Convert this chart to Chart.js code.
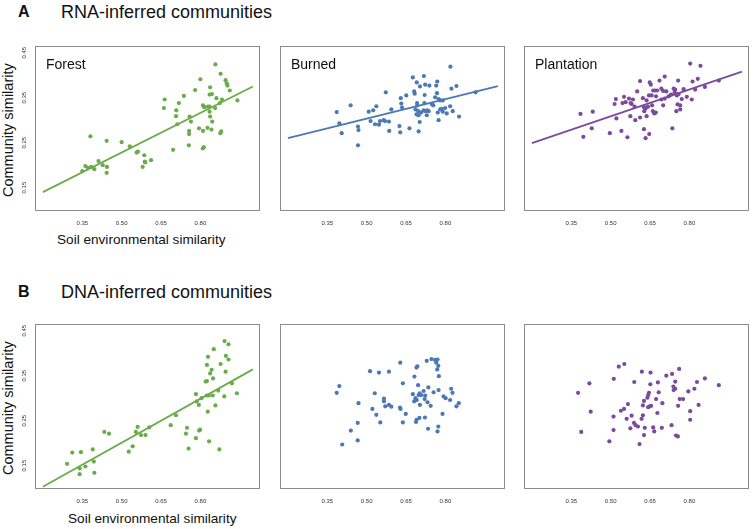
<!DOCTYPE html>
<html>
<head>
<meta charset="utf-8">
<script src="https://cdn.jsdelivr.net/npm/chart.js@4.4.1/dist/chart.umd.min.js"></script>
<style>
  body { margin: 0; width: 753px; height: 529px; position: relative; overflow: hidden; background: #fff;
         font-family: "Liberation Sans", Arial, Helvetica, sans-serif; color: #111; }
  .txt { position: absolute; white-space: nowrap; line-height: 1; }
  .letter { font-weight: bold; font-size: 16px; }
  .title { font-size: 18px; }
  .axis-x { font-size: 13.6px; }
  .axis-y { font-size: 14.5px; transform-origin: 0 0; transform: rotate(-90deg); }
  canvas { position: absolute; }
</style>
</head>
<body>
<div class="txt letter" style="left:18px; top:4px">A</div>
<div class="txt title" style="left:61px; top:3px">RNA-inferred communities</div>
<div class="txt letter" style="left:18px; top:284px">B</div>
<div class="txt title" style="left:61px; top:283px">DNA-inferred communities</div>
<div class="txt axis-y" style="left:1px; top:197px">Community similarity</div>
<div class="txt axis-y" style="left:1px; top:475px">Community similarity</div>
<div class="txt axis-x" style="left:57px; top:233px">Soil environmental similarity</div>
<div class="txt axis-x" style="left:68px; top:512px">Soil environmental similarity</div>

<canvas id="forestRna" width="249" height="187"></canvas>
<canvas id="burnedRna" width="249" height="187"></canvas>
<canvas id="plantRna" width="249" height="187"></canvas>
<canvas id="forestDna" width="249" height="187"></canvas>
<canvas id="burnedDna" width="249" height="187"></canvas>
<canvas id="plantDna" width="249" height="187"></canvas>

<script>
const xTicks = [0.35, 0.50, 0.65, 0.80];
const yTicks = [0.15, 0.25, 0.35, 0.45];
const fitX = [0.2, 1.0];

// RNA-inferred
const forestRnaX = [0.857,0.877,0.800,0.896,0.900,0.903,0.837,0.912,0.780,0.835,
  0.844,0.737,0.718,0.664,0.861,0.882,0.941,0.810,0.815,0.829,
  0.835,0.856,0.874,0.661,0.708,0.835,0.707,0.759,0.837,0.764,
  0.712,0.845,0.795,0.810,0.827,0.842,0.879,0.876,0.757,0.757,
  0.381,0.443,0.500,0.531,0.696,0.756,0.813,0.809,0.557,0.562,
  0.586,0.612,0.588,0.590,0.580,0.412,0.428,0.350,0.362,0.371,
  0.384,0.396,0.444,0.443];
const forestRnaY = [0.424,0.403,0.391,0.389,0.382,0.377,0.373,0.366,0.367,0.357,
  0.358,0.354,0.338,0.346,0.349,0.346,0.344,0.333,0.329,0.330,
  0.330,0.327,0.338,0.327,0.322,0.319,0.309,0.308,0.308,0.297,
  0.291,0.297,0.282,0.276,0.283,0.279,0.275,0.271,0.276,0.269,
  0.264,0.254,0.251,0.242,0.234,0.244,0.240,0.237,0.228,0.230,
  0.222,0.211,0.208,0.206,0.196,0.209,0.200,0.187,0.198,0.194,
  0.196,0.191,0.196,0.183];
const forestRnaFit = [0.140, 0.375];

const burnedRnaX = [0.819,0.676,0.718,0.691,0.769,0.703,0.723,0.739,0.765,0.842,
  0.823,0.573,0.681,0.683,0.630,0.651,0.721,0.768,0.761,0.774,
  0.780,0.790,0.439,0.537,0.632,0.635,0.692,0.693,0.720,0.749,
  0.754,0.818,0.386,0.508,0.525,0.594,0.686,0.697,0.707,0.717,
  0.723,0.731,0.736,0.780,0.786,0.799,0.790,0.828,0.771,0.805,
  0.690,0.698,0.729,0.852,0.515,0.551,0.565,0.570,0.585,0.532,
  0.547,0.774,0.702,0.396,0.467,0.625,0.663,0.586,0.628,0.698,
  0.469,0.405,0.467,0.915];
const burnedRnaY = [0.419,0.395,0.398,0.384,0.386,0.375,0.379,0.377,0.377,0.376,
  0.370,0.362,0.364,0.359,0.349,0.355,0.356,0.360,0.351,0.347,
  0.344,0.344,0.333,0.331,0.337,0.328,0.338,0.333,0.338,0.335,
  0.333,0.331,0.318,0.319,0.322,0.324,0.324,0.320,0.317,0.322,
  0.320,0.322,0.320,0.324,0.325,0.327,0.319,0.320,0.317,0.315,
  0.313,0.311,0.311,0.308,0.298,0.298,0.300,0.298,0.297,0.291,
  0.290,0.300,0.296,0.293,0.286,0.287,0.282,0.276,0.273,0.275,
  0.278,0.271,0.244,0.362];
const burnedRnaFit = [0.260, 0.376];

const plantRnaX = [0.803,0.842,0.612,0.649,0.653,0.686,0.706,0.757,0.812,0.832,
  0.601,0.662,0.668,0.677,0.693,0.700,0.712,0.740,0.746,0.778,
  0.646,0.656,0.673,0.623,0.721,0.730,0.744,0.752,0.759,0.822,
  0.859,0.912,0.520,0.551,0.570,0.585,0.557,0.576,0.580,0.637,
  0.693,0.706,0.771,0.790,0.809,0.515,0.545,0.591,0.627,0.633,
  0.642,0.658,0.700,0.755,0.765,0.628,0.661,0.672,0.750,0.765,
  0.432,0.385,0.522,0.575,0.594,0.612,0.637,0.666,0.428,0.541,
  0.627,0.735,0.497,0.647,0.396,0.564,0.633];
const plantRnaY = [0.426,0.421,0.387,0.384,0.379,0.388,0.397,0.388,0.386,0.392,
  0.364,0.366,0.366,0.366,0.370,0.365,0.364,0.370,0.368,0.369,
  0.355,0.355,0.353,0.349,0.353,0.357,0.362,0.355,0.358,0.368,
  0.374,0.388,0.347,0.352,0.348,0.346,0.340,0.338,0.336,0.344,
  0.346,0.348,0.347,0.352,0.346,0.336,0.338,0.330,0.329,0.326,
  0.330,0.333,0.333,0.335,0.333,0.320,0.320,0.317,0.320,0.324,
  0.319,0.314,0.304,0.309,0.300,0.306,0.309,0.315,0.282,0.276,
  0.280,0.282,0.271,0.269,0.263,0.262,0.260];
const plantRnaFit = [0.249, 0.408];

// DNA-inferred
const forestDnaX = [0.892,0.907,0.851,0.829,0.897,0.907,0.825,0.877,0.843,0.837,
  0.896,0.848,0.825,0.820,0.920,0.868,0.939,0.783,0.824,0.832,
  0.847,0.804,0.786,0.794,0.891,0.857,0.828,0.707,0.687,0.749,
  0.745,0.795,0.799,0.783,0.833,0.755,0.872,0.561,0.554,0.574,
  0.591,0.605,0.434,0.452,0.542,0.527,0.390,0.312,0.345,0.394,
  0.292,0.340,0.340,0.362,0.396];
const forestDnaY = [0.427,0.420,0.409,0.392,0.394,0.386,0.374,0.376,0.363,0.355,
  0.359,0.344,0.338,0.337,0.333,0.317,0.311,0.309,0.306,0.306,
  0.306,0.300,0.293,0.285,0.304,0.284,0.270,0.262,0.240,0.234,
  0.221,0.228,0.230,0.211,0.204,0.188,0.186,0.236,0.225,0.218,
  0.218,0.235,0.225,0.221,0.193,0.181,0.186,0.179,0.180,0.159,
  0.154,0.144,0.131,0.148,0.134];
const forestDnaFit = [0.103, 0.364];

const burnedDnaX = [0.747,0.729,0.761,0.770,0.765,0.773,0.769,0.628,0.693,0.690,
  0.513,0.547,0.585,0.682,0.775,0.396,0.386,0.638,0.696,0.735,
  0.774,0.822,0.827,0.755,0.717,0.702,0.698,0.676,0.708,0.723,
  0.686,0.691,0.681,0.721,0.732,0.793,0.801,0.818,0.851,0.842,
  0.531,0.566,0.566,0.585,0.594,0.571,0.627,0.629,0.703,0.744,
  0.469,0.522,0.537,0.649,0.789,0.722,0.701,0.690,0.688,0.638,
  0.552,0.466,0.440,0.734,0.773,0.770,0.466,0.407];
const burnedDnaY = [0.387,0.383,0.385,0.386,0.379,0.372,0.364,0.379,0.371,0.368,
  0.360,0.357,0.359,0.348,0.349,0.327,0.312,0.333,0.329,0.324,
  0.318,0.321,0.312,0.313,0.316,0.311,0.307,0.309,0.307,0.306,
  0.300,0.296,0.293,0.298,0.291,0.304,0.300,0.296,0.289,0.282,
  0.311,0.299,0.293,0.285,0.281,0.282,0.279,0.276,0.285,0.283,
  0.289,0.276,0.263,0.265,0.265,0.257,0.256,0.252,0.247,0.246,
  0.246,0.245,0.228,0.232,0.237,0.226,0.206,0.197];

const plantDnaX = [0.552,0.531,0.761,0.619,0.652,0.712,0.734,0.512,0.859,0.829,
  0.746,0.590,0.680,0.651,0.419,0.912,0.739,0.746,0.740,0.819,
  0.796,0.376,0.646,0.683,0.643,0.640,0.673,0.627,0.763,0.776,
  0.697,0.835,0.623,0.566,0.654,0.643,0.649,0.757,0.551,0.539,
  0.803,0.424,0.678,0.623,0.580,0.511,0.561,0.618,0.803,0.589,
  0.595,0.604,0.575,0.630,0.662,0.695,0.732,0.666,0.511,0.388,
  0.627,0.749,0.756,0.495,0.610];
const plantDnaY = [0.376,0.370,0.365,0.359,0.357,0.350,0.354,0.343,0.344,0.336,
  0.337,0.336,0.335,0.331,0.333,0.329,0.326,0.321,0.318,0.321,
  0.315,0.312,0.312,0.313,0.307,0.301,0.298,0.294,0.298,0.298,
  0.289,0.285,0.284,0.287,0.283,0.280,0.282,0.283,0.276,0.272,
  0.271,0.270,0.267,0.262,0.261,0.259,0.254,0.254,0.252,0.245,
  0.240,0.237,0.233,0.234,0.235,0.234,0.240,0.226,0.229,0.225,
  0.218,0.217,0.215,0.204,0.198];

const GREEN = '#6aab4b';
const BLUE = '#4c78b3';
const PURPLE = '#7c4a9c';
const FONT = '"Liberation Sans", Arial, Helvetica, sans-serif';

const panels = [
  { id: 'forestRna', left: 35, top: 44, name: 'Forest', xs: forestRnaX, ys: forestRnaY, fit: forestRnaFit, color: GREEN, yLabels: true },
  { id: 'burnedRna', left: 280, top: 44, name: 'Burned', xs: burnedRnaX, ys: burnedRnaY, fit: burnedRnaFit, color: BLUE },
  { id: 'plantRna', left: 524, top: 44, name: 'Plantation', xs: plantRnaX, ys: plantRnaY, fit: plantRnaFit, color: PURPLE },
  { id: 'forestDna', left: 35, top: 322, name: '', xs: forestDnaX, ys: forestDnaY, fit: forestDnaFit, color: GREEN, yLabels: true },
  { id: 'burnedDna', left: 280, top: 322, name: '', xs: burnedDnaX, ys: burnedDnaY, fit: null, color: BLUE },
  { id: 'plantDna', left: 524, top: 322, name: '', xs: plantDnaX, ys: plantDnaY, fit: null, color: PURPLE },
];

// box round the plot, panel name and the rotated y tick labels
const panelFrame = {
  id: 'panelFrame',
  afterDraw(chart, args, opts) {
    const { ctx, chartArea: a } = chart;
    ctx.save();
    ctx.strokeStyle = '#8c8c8c';
    ctx.lineWidth = 1;
    ctx.strokeRect(a.left + 0.5, a.top + 0.5, a.right - a.left - 1, a.bottom - a.top - 1);
    if (opts.name) {
      ctx.fillStyle = '#111';
      ctx.font = '14px ' + FONT;
      ctx.textBaseline = 'alphabetic';
      ctx.fillText(opts.name, a.left + 11, a.top + 23);
    }
    if (opts.yLabels) {
      const y = chart.scales.y;
      ctx.fillStyle = '#333';
      ctx.font = '6px ' + FONT;
      ctx.textAlign = 'center';
      ctx.textBaseline = 'middle';
      y.ticks.forEach(t => {
        ctx.save();
        ctx.translate(a.left - 11, y.getPixelForValue(t.value));
        ctx.rotate(-Math.PI / 2);
        ctx.fillText(t.value.toFixed(2), 0, 0);
        ctx.restore();
      });
    }
    ctx.restore();
  },
};

function buildPanel(p) {
  const canvas = document.getElementById(p.id);
  canvas.style.left = (p.left - 20) + 'px';
  canvas.style.top = (p.top - 2) + 'px';

  const datasets = [{
    type: 'scatter',
    data: p.xs.map((x, i) => ({ x, y: p.ys[i] })),
    backgroundColor: p.color,
    borderWidth: 0,
    pointRadius: 2.1,
  }];
  if (p.fit) {
    datasets.push({
      type: 'line',
      data: fitX.map((x, i) => ({ x, y: p.fit[i] })),
      borderColor: p.color,
      borderWidth: 1.8,
      pointRadius: 0,
      fill: false,
    });
  }

  new Chart(canvas, {
    data: { datasets },
    plugins: [panelFrame],
    options: {
      responsive: false,
      animation: false,
      events: [],
      layout: { padding: { top: 2, right: 2, left: 0, bottom: 0 } },
      plugins: {
        legend: { display: false },
        tooltip: { enabled: false },
        panelFrame: { name: p.name, yLabels: !!p.yLabels },
      },
      scales: {
        x: {
          type: 'linear', min: 0.17, max: 1.027,
          grid: { display: false, drawTicks: false },
          border: { display: false },
          ticks: { padding: 9, color: '#333', font: { size: 6, family: FONT }, maxRotation: 0, autoSkip: false,
                   callback: v => Number(v).toFixed(2) },
          afterBuildTicks: s => { s.ticks = xTicks.map(v => ({ value: v })); },
          afterFit: s => { s.height = 18; },
        },
        y: {
          type: 'linear', min: 0.098, max: 0.465,
          grid: { display: false, drawTicks: false },
          border: { display: false },
          ticks: { display: false },
          afterBuildTicks: s => { s.ticks = yTicks.map(v => ({ value: v })); },
          afterFit: s => { s.width = 20; },
        },
      },
    },
  });
}

panels.forEach(buildPanel);
</script>
</body>
</html>
